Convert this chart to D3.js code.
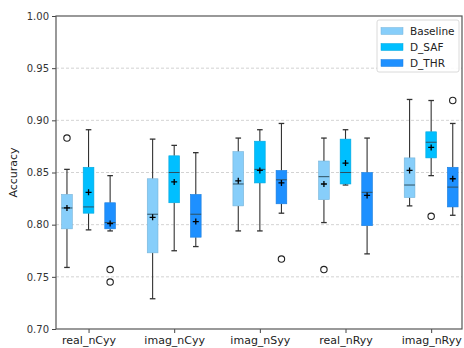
<!DOCTYPE html>
<meta charset="utf-8">
<script src="https://d3js.org/d3.v7.min.js"></script>
<style>
  body { margin: 0; background: #fff; }
  text { font-family: "DejaVu Sans", sans-serif; }
</style>
<div id="chart"></div>
<script>
// groups on the x axis and the three series
var groups = ["real_nCyy", "imag_nCyy", "imag_nSyy", "real_nRyy", "imag_nRyy"];
var series = ["Baseline", "D_SAF", "D_THR"];
var colors = ["#87cefa", "#00bfff", "#1e90ff"];

// per group: [whisker low, q1, median, q3, whisker high, mean]
var baselineStats = [
  [0.759, 0.796, 0.816, 0.829, 0.853, 0.816],
  [0.729, 0.773, 0.810, 0.844, 0.882, 0.807],
  [0.794, 0.818, 0.839, 0.870, 0.883, 0.842],
  [0.802, 0.824, 0.846, 0.861, 0.883, 0.839],
  [0.818, 0.826, 0.838, 0.864, 0.920, 0.852]
];
var safStats = [
  [0.795, 0.811, 0.817, 0.855, 0.891, 0.831],
  [0.775, 0.821, 0.850, 0.866, 0.876, 0.841],
  [0.794, 0.840, 0.853, 0.880, 0.891, 0.852],
  [0.838, 0.839, 0.850, 0.882, 0.891, 0.859],
  [0.847, 0.864, 0.879, 0.889, 0.919, 0.874]
];
var thrStats = [
  [0.794, 0.796, 0.802, 0.821, 0.847, 0.801],
  [0.779, 0.788, 0.810, 0.829, 0.869, 0.803],
  [0.811, 0.820, 0.843, 0.852, 0.897, 0.840],
  [0.772, 0.799, 0.831, 0.850, 0.883, 0.828],
  [0.809, 0.817, 0.836, 0.855, 0.897, 0.844]
];
var baselineOutliers = [[0.883], [], [], [0.757], []];
var safOutliers = [[], [], [], [], [0.808]];
var thrOutliers = [[0.757, 0.745], [], [0.767], [], [0.919]];

var yTicks = [0.70, 0.75, 0.80, 0.85, 0.90, 0.95, 1.00];

var allStats = [baselineStats, safStats, thrStats];
var allOutliers = [baselineOutliers, safOutliers, thrOutliers];

var W = 464, H = 348;
var plotL = 56, plotR = 462, plotT = 16, plotB = 329;

var svg = d3.select("#chart").append("svg")
  .attr("width", W).attr("height", H);

var x = d3.scaleLinear().domain([-0.38, 4.36]).range([plotL, plotR]);
var y = d3.scaleLinear().domain([0.70, 1.00]).range([plotB, plotT]);
var step = x(1) - x(0);
var offset = 0.252 * step;
var boxW = 0.125 * step;

// grid
svg.append("g").selectAll("line")
  .data(yTicks.filter(function(d) { return d > 0.70 && d < 1.00; }))
  .enter().append("line")
  .attr("x1", plotL).attr("x2", plotR)
  .attr("y1", function(d) { return y(d); }).attr("y2", function(d) { return y(d); })
  .attr("stroke", "#c8c8c8").attr("stroke-width", 0.8)
  .attr("stroke-dasharray", "3,2");

// axes
var yAxis = svg.append("g")
  .attr("transform", "translate(" + plotL + ",0)")
  .call(d3.axisLeft(y).tickValues(yTicks).tickFormat(d3.format(".2f")).tickSize(4).tickPadding(3));
var xAxis = svg.append("g")
  .attr("transform", "translate(0," + plotB + ")")
  .call(d3.axisBottom(x).tickValues(d3.range(groups.length))
    .tickFormat(function(i) { return groups[i]; }).tickSize(4).tickPadding(3));
yAxis.select(".domain").remove();
xAxis.select(".domain").remove();
yAxis.selectAll("text").attr("font-size", 10).attr("fill", "#333");
xAxis.selectAll("text").attr("font-size", 11).attr("fill", "#222");
svg.selectAll(".tick line").attr("stroke", "#444");

// frame
svg.append("rect")
  .attr("x", plotL).attr("y", plotT)
  .attr("width", plotR - plotL).attr("height", plotB - plotT)
  .attr("fill", "none").attr("stroke", "#555").attr("stroke-width", 1.2);

svg.append("text")
  .attr("transform", "translate(17," + ((plotT + plotB) / 2) + ") rotate(-90)")
  .attr("text-anchor", "middle")
  .attr("font-size", 11).attr("fill", "#222")
  .text("Accuracy");

// boxes
series.forEach(function(s, si) {
  var g = svg.append("g");
  allStats[si].forEach(function(st, gi) {
    var cx = x(gi) + (si - 1) * offset;
    var lo = st[0], q1 = st[1], med = st[2], q3 = st[3], hi = st[4], mean = st[5];
    // whiskers
    g.append("line").attr("x1", cx).attr("x2", cx).attr("y1", y(q3)).attr("y2", y(hi))
      .attr("stroke", "#333").attr("stroke-width", 1.1);
    g.append("line").attr("x1", cx).attr("x2", cx).attr("y1", y(q1)).attr("y2", y(lo))
      .attr("stroke", "#333").attr("stroke-width", 1.1);
    [lo, hi].forEach(function(v) {
      g.append("line").attr("x1", cx - 2.8).attr("x2", cx + 2.8)
        .attr("y1", y(v)).attr("y2", y(v))
        .attr("stroke", "#333").attr("stroke-width", 1.3);
    });
    g.append("rect")
      .attr("x", cx - boxW / 2).attr("width", boxW)
      .attr("y", y(q3)).attr("height", Math.max(y(q1) - y(q3), 0.5))
      .attr("fill", colors[si])
      .attr("stroke", d3.color(colors[si]).darker(0.4)).attr("stroke-width", 0.6);
    g.append("line").attr("x1", cx - boxW / 2).attr("x2", cx + boxW / 2)
      .attr("y1", y(med)).attr("y2", y(med))
      .attr("stroke", "#2f4f5f").attr("stroke-width", 1);
    // mean marker
    g.append("path")
      .attr("d", "M" + (cx - 3) + "," + y(mean) + "h6M" + cx + "," + (y(mean) - 3) + "v6")
      .attr("stroke", "#000").attr("stroke-width", 1.3);
    allOutliers[si][gi].forEach(function(v) {
      g.append("circle").attr("cx", cx).attr("cy", y(v)).attr("r", 3.2)
        .attr("fill", "#fff").attr("stroke", "#222").attr("stroke-width", 1.1);
    });
  });
});

// legend
var lg = svg.append("g");
lg.append("rect").attr("x", 377).attr("y", 20).attr("width", 82).attr("height", 52)
  .attr("rx", 2).attr("fill", "#fff").attr("fill-opacity", 0.9)
  .attr("stroke", "#d0d0d0").attr("stroke-width", 0.8);
series.forEach(function(s, i) {
  var yy = 31 + i * 16;
  lg.append("rect").attr("x", 381).attr("y", yy - 3.5).attr("width", 22).attr("height", 7)
    .attr("fill", colors[i]).attr("stroke", d3.color(colors[i]).darker(0.4)).attr("stroke-width", 0.5);
  lg.append("text").attr("x", 410).attr("y", yy).attr("dy", "0.35em")
    .attr("font-size", 10.5).attr("fill", "#222").text(s);
});
</script>
